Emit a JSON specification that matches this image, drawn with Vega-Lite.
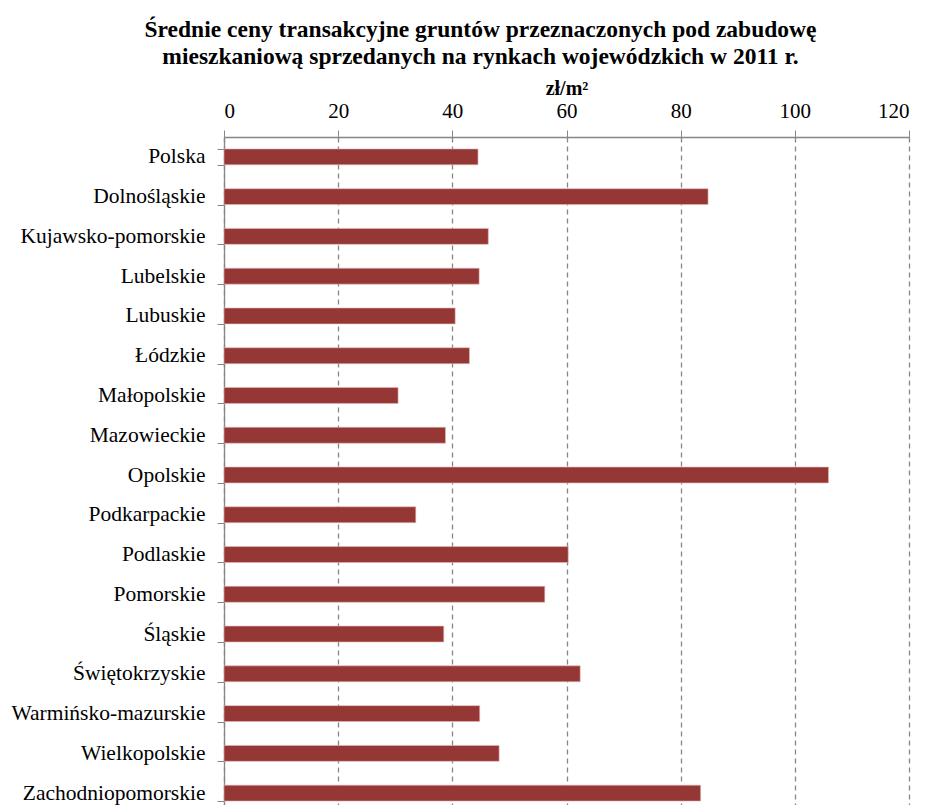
{
  "$schema": "https://vega.github.io/schema/vega-lite/v6.json",
  "autosize": {"type": "none"},
  "width": 685,
  "height": 676,
  "padding": {"left": 224, "top": 137, "right": 16, "bottom": 0},
  "background": "white",
  "title": {
    "text": ["Średnie ceny transakcyjne gruntów przeznaczonych pod zabudowę", "mieszkaniową sprzedanych na rynkach wojewódzkich w 2011 r."],
    "font": "Liberation Serif",
    "fontSize": 23.5,
    "fontWeight": "bold",
    "color": "black",
    "anchor": "middle",
    "frame": "group",
    "dx": -86,
    "lineHeight": 27,
    "offset": 10
  },
  "data": {
    "values": [
      {"region": "Polska", "value": 44.5},
      {"region": "Dolnośląskie", "value": 84.8},
      {"region": "Kujawsko-pomorskie", "value": 46.3},
      {"region": "Lubelskie", "value": 44.7},
      {"region": "Lubuskie", "value": 40.5},
      {"region": "Łódzkie", "value": 43.0},
      {"region": "Małopolskie", "value": 30.5},
      {"region": "Mazowieckie", "value": 38.8},
      {"region": "Opolskie", "value": 105.9},
      {"region": "Podkarpackie", "value": 33.6},
      {"region": "Podlaskie", "value": 60.3},
      {"region": "Pomorskie", "value": 56.2},
      {"region": "Śląskie", "value": 38.5},
      {"region": "Świętokrzyskie", "value": 62.4},
      {"region": "Warmińsko-mazurskie", "value": 44.8},
      {"region": "Wielkopolskie", "value": 48.2},
      {"region": "Zachodniopomorskie", "value": 83.5}
    ]
  },
  "mark": {"type": "bar", "color": "#953735", "stroke": "#e6b9b8", "strokeWidth": 0.6},
  "encoding": {
    "y": {
      "field": "region",
      "type": "nominal",
      "sort": null,
      "scale": {"paddingInner": 0.6, "paddingOuter": 0.3},
      "axis": {
        "title": null,
        "tickBand": "extent",
        "tickSize": 7,
        "tickColor": "#868686",
        "domainColor": "#868686",
        "domainWidth": 1.3,
        "labelFont": "Liberation Serif",
        "labelFontSize": 21.5,
        "labelColor": "black",
        "labelPadding": 12,
        "labelLimit": 400,
        "grid": false
      }
    },
    "x": {
      "field": "value",
      "type": "quantitative",
      "scale": {"domain": [0, 120], "nice": false},
      "axis": {
        "orient": "top",
        "values": [0, 20, 40, 60, 80, 100, 120],
        "title": "zł/m²",
        "titleFont": "Liberation Serif",
        "titleFontSize": 20,
        "titleFontWeight": "bold",
        "titleColor": "black",
        "titlePadding": 2,
        "labelFont": "Liberation Serif",
        "labelFontSize": 21,
        "labelColor": "black",
        "labelPadding": 9,
        "tickSize": 7,
        "tickColor": "#868686",
        "domainColor": "#868686",
        "domainWidth": 1.3,
        "grid": true,
        "gridColor": "#868686",
        "gridDash": [5, 4],
        "gridWidth": 1.3
      }
    }
  },
  "config": {"view": {"stroke": null}}
}
